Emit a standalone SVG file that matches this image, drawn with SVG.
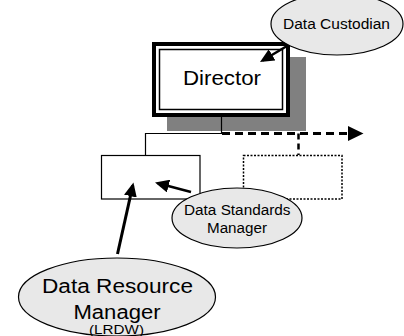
<svg xmlns="http://www.w3.org/2000/svg" width="404" height="336" viewBox="0 0 404 336">
<style>
text{font-family:"Liberation Sans",Arial,sans-serif;fill:#000}
.ell{fill:#e8e8e8;stroke:#000;stroke-width:1.2}
.thin{fill:none;stroke:#000;stroke-width:1.2}
.arr{stroke:#000;fill:none;marker-end:url(#ah)}
</style>
<defs>
<marker id="ah" markerUnits="userSpaceOnUse" markerWidth="15" markerHeight="13" refX="11" refY="6.5" orient="auto">
<path d="M0,0 L14,6.5 L0,13 z" fill="#000"/>
</marker>
</defs>
<rect x="0" y="0" width="404" height="336" fill="#fff"/>
<g id="director">
<rect x="167" y="57" width="139" height="74" fill="#808080"/>
<rect x="154" y="44" width="134" height="71" fill="#fff" stroke="#000" stroke-width="4"/>
<rect x="159.5" y="49.5" width="123" height="60" fill="none" stroke="#000" stroke-width="1.5"/>
<text x="183" y="85" font-size="20" textLength="78" lengthAdjust="spacingAndGlyphs">Director</text>
</g>
<g id="connectors">
<polyline class="thin" points="221.5,115 221.5,133.5 145.5,133.5 145.5,155"/>
<line x1="222" y1="133.5" x2="351" y2="133.5" stroke="#000" stroke-width="3" stroke-dasharray="8,5"/>
<polygon points="348,126 363.5,133.5 348,141" fill="#000"/>
<line x1="298.5" y1="133.5" x2="298.5" y2="155" stroke="#000" stroke-width="2.5" stroke-dasharray="6,4"/>
</g>
<g id="unit-left">
<rect x="101.5" y="155.5" width="98.5" height="43.5" class="thin"/>
</g>
<g id="unit-right">
<rect x="243.5" y="155.5" width="98.5" height="43.5" fill="none" stroke="#000" stroke-width="1.5" stroke-dasharray="2,1.5"/>
</g>
<g id="data-custodian">
<ellipse class="ell" cx="337" cy="24" rx="66" ry="31"/>
<text x="283" y="29" font-size="14" textLength="107" lengthAdjust="spacingAndGlyphs">Data Custodian</text>
</g>
<g id="data-standards-manager">
<ellipse class="ell" cx="237" cy="218" rx="65" ry="30"/>
<text x="184" y="215" font-size="14" textLength="106.5" lengthAdjust="spacingAndGlyphs">Data Standards</text>
<text x="207" y="232.5" font-size="14" textLength="60" lengthAdjust="spacingAndGlyphs">Manager</text>
</g>
<g id="data-resource-manager">
<ellipse class="ell" cx="117" cy="297" rx="98.5" ry="39"/>
<text x="42" y="293" font-size="20" textLength="151" lengthAdjust="spacingAndGlyphs">Data Resource</text>
<text x="73.5" y="318.5" font-size="20" textLength="87" lengthAdjust="spacingAndGlyphs">Manager</text>
<text x="89" y="333.5" font-size="12" textLength="55" lengthAdjust="spacingAndGlyphs">(LRDW)</text>
</g>
<g id="arrows">
<line class="arr" stroke-width="2.5" x1="287" y1="46" x2="262.6" y2="60.5"/>
<line class="arr" stroke-width="2.5" x1="191" y1="192" x2="157.9" y2="183.3"/>
<line class="arr" stroke-width="3" x1="117.5" y1="254" x2="132.8" y2="185.4"/>
</g>
</svg>
